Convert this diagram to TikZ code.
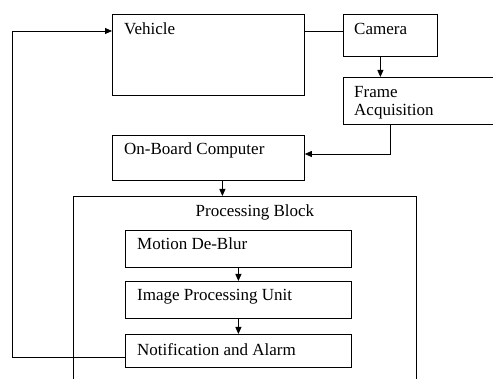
\documentclass[tikz,border=0pt]{standalone}
\usepackage{fontspec}
\setmainfont{Liberation Serif}
\usetikzlibrary{arrows.meta}
\tikzset{
  blk/.style={draw, line width=0.8pt, rectangle, inner sep=0pt, anchor=north west},
  txt/.style={anchor=north west, inner sep=0pt, xshift=12pt, yshift=-9pt, align=left},
  arr/.style={-{Triangle[length=7pt,width=6pt]}, line width=0.8pt},
  lnk/.style={line width=0.8pt}
}
\begin{document}
\begin{tikzpicture}[x=1pt, y=-1pt, font=\fontsize{17}{18}\selectfont]
        \useasboundingbox[fill=white] (0,0) rectangle (493,379);

        % boxes
        \node [ blk, minimum width=192pt, minimum height=81pt ] (veh) at (112, 14) {};
        \node [ blk, minimum width=94pt, minimum height=42pt ] (cam) at (343, 14) {};
        \node [ blk, minimum width=160pt, minimum height=47pt ] (frame) at (343, 77) {};
        \node [ blk, minimum width=192pt, minimum height=45pt ] (obc) at (112, 135) {};
        \node [ blk, minimum width=343pt, minimum height=200pt ] (pb) at (73, 196) {};
        \node [ blk, minimum width=226pt, minimum height=37pt ] (mdb) at (125, 230) {};
        \node [ blk, minimum width=226pt, minimum height=37pt ] (ipu) at (125, 281) {};
        \node [ blk, minimum width=226pt, minimum height=33pt ] (note) at (125, 334) {};

        % texts
        \node [ txt ] (vehtxt) at (veh.north west) {Vehicle};
        \node [ txt, xshift=-1pt ] (camtxt) at (cam.north west) {Camera};
        \node [ txt, xshift=-1pt ] (frametxt) at (frame.north west) {Frame\\Acquisition};
        \node [ txt, yshift=1pt ] (obctxt) at (obc.north west) {On-Board Computer};
        \node [ anchor=north, inner sep=0pt, xshift=10pt, yshift=-9pt ] (pbtxt) at (pb.north) {Processing Block};
        \node [ txt, yshift=1pt ] (mdbtxt) at (mdb.north west) {Motion De-Blur};
        \node [ txt, yshift=1pt ] (iputxt) at (ipu.north west) {Image Processing Unit};
        \node [ txt ] (notetxt) at (note.north west) {Notification and Alarm};

        % connectors
        \coordinate (vtop) at (112, 31);
        \coordinate (fdrop) at (390, 154);
        \coordinate (fbk) at (12, 357);

        \draw [ lnk ] (vtop -| veh.east) -- (vtop -| cam.west);
        \draw [ arr ] ([xshift=-10pt]cam.south) -- ([xshift=-10pt]cam.south |- frame.north);
        \draw [ arr ] (fdrop |- frame.south) -- (fdrop) -- (fdrop -| obc.east);
        \draw [ arr ] ([xshift=14pt]obc.south) -- ([xshift=14pt]obc.south |- pb.north);
        \draw [ arr ] (mdb.south) -- (ipu.north);
        \draw [ arr ] (ipu.south) -- (note.north);
        \draw [ arr ] (note.west |- fbk) -- (fbk) |- (vtop);
      \end{tikzpicture}
\end{document}
